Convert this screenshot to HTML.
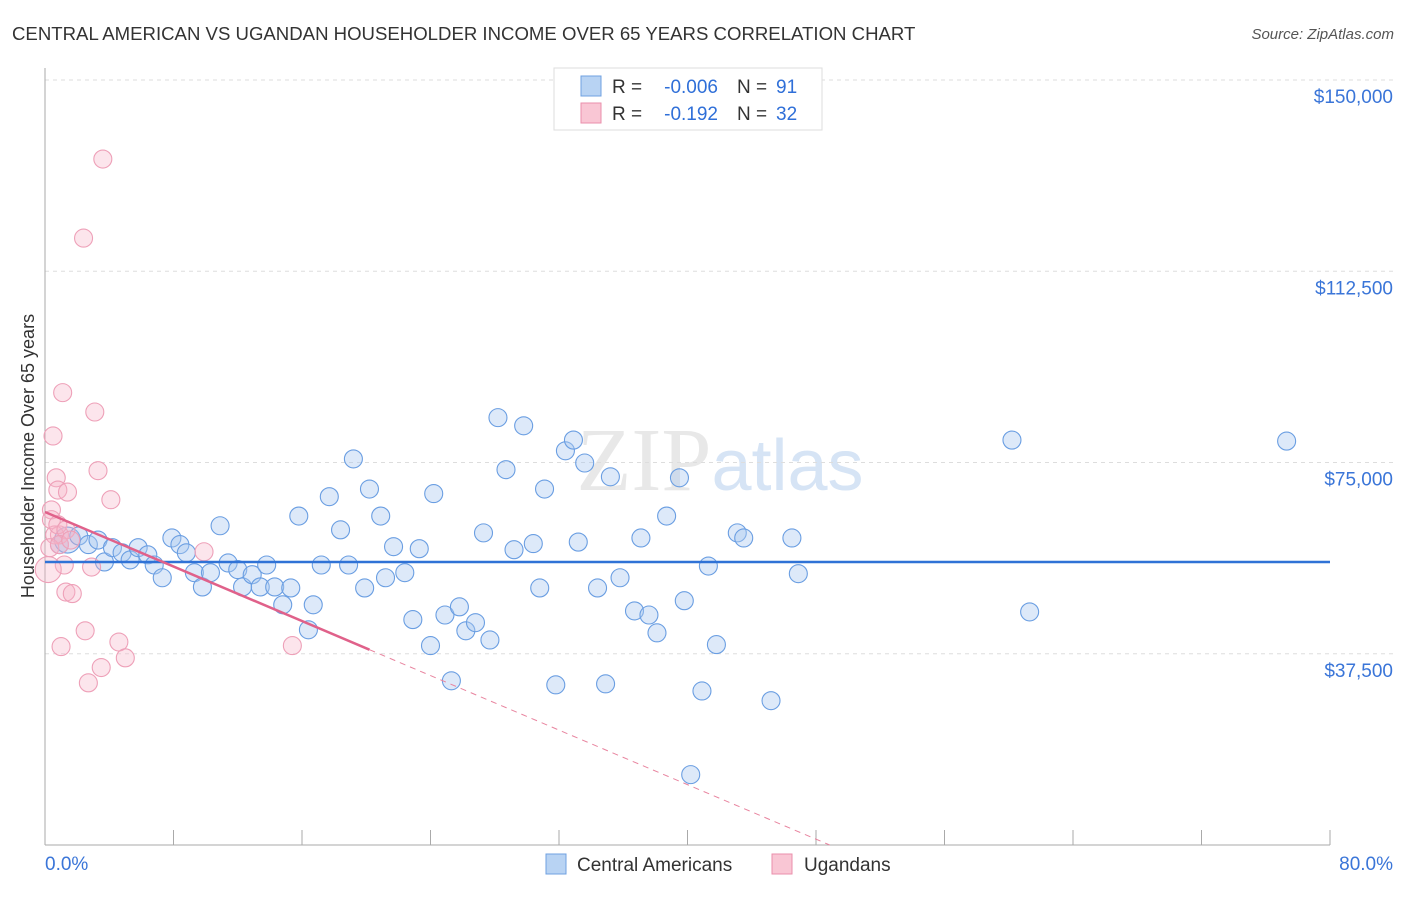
<!DOCTYPE html>
<html><head><meta charset="utf-8"><style>
body{margin:0;background:#fff;font-family:"Liberation Sans",sans-serif}
</style></head><body>
<svg id="chart" width="1406" height="892" xmlns="http://www.w3.org/2000/svg" font-family="Liberation Sans, sans-serif">
<text x="12" y="40" font-size="18.6" fill="#333">CENTRAL AMERICAN VS UGANDAN HOUSEHOLDER INCOME OVER 65 YEARS CORRELATION CHART</text>
<text x="1394" y="39" font-size="15" fill="#555" text-anchor="end" font-style="italic">Source: ZipAtlas.com</text>
<text x="720" y="490" font-size="90" fill="#e8e8e8" text-anchor="middle" font-family="Liberation Serif, serif">ZIP<tspan fill="#d6e4f5" font-family="Liberation Sans, sans-serif" font-size="72">atlas</tspan></text>
<g id="grid"></g>
<g id="axes"></g>
<g id="marks"></g>
<text transform="translate(34,456) rotate(-90)" font-size="18" fill="#333" text-anchor="middle">Householder Income Over 65 years</text>
<g>
<rect x="554" y="68" width="268" height="62" fill="#fff" stroke="#ddd"/>
<rect x="581" y="76" width="20" height="20" fill="#b8d3f3" stroke="#6fa0e0"/>
<rect x="581" y="103" width="20" height="20" fill="#f9c6d4" stroke="#ea8fab"/>
<text x="612" y="93" font-size="19" fill="#333">R =</text>
<text x="718" y="93" font-size="19" fill="#2f6fd8" text-anchor="end">-0.006</text>
<text x="737" y="93" font-size="19" fill="#333">N =</text>
<text x="776" y="93" font-size="19" fill="#2f6fd8">91</text>
<text x="612" y="120" font-size="19" fill="#333">R =</text>
<text x="718" y="120" font-size="19" fill="#2f6fd8" text-anchor="end">-0.192</text>
<text x="737" y="120" font-size="19" fill="#333">N =</text>
<text x="776" y="120" font-size="19" fill="#2f6fd8">32</text>
</g>
<g>
<rect x="546" y="854" width="20" height="20" fill="#b8d3f3" stroke="#6fa0e0"/>
<text x="577" y="871" font-size="19" fill="#333">Central Americans</text>
<rect x="772" y="854" width="20" height="20" fill="#f9c6d4" stroke="#ea8fab"/>
<text x="804" y="871" font-size="19" fill="#333">Ugandans</text>
</g>
</svg>
<script>
const yTicks=[37500,75000,112500,150000];
const yTickLabels=["$37,500","$75,000","$112,500","$150,000"];
const xTickLabels=["0.0%","80.0%"];
const blueX=[0.9,1.4,2.1,2.7,3.3,3.7,4.2,4.8,5.3,5.8,6.4,6.8,7.3,7.9,8.4,8.8,9.3,9.8,10.3,10.9,11.4,12.0,12.3,12.9,13.4,13.8,14.3,14.8,15.3,15.8,16.4,16.7,17.2,17.7,18.4,18.9,19.2,19.9,20.2,20.9,21.2,21.7,22.4,22.9,23.3,24.0,24.2,24.9,25.3,25.8,26.2,26.8,27.3,27.7,28.2,28.7,29.2,29.8,30.4,30.8,31.1,32.4,32.9,33.2,33.6,34.4,34.9,35.2,35.8,36.7,37.1,37.6,38.1,38.7,39.5,39.8,40.9,41.3,41.8,43.1,43.5,45.2,46.5,46.9,60.2,61.3,77.3,31.8,40.2];
const blueY=[58900,59800,60600,58900,59800,55500,58300,57300,55900,58300,56900,54900,52400,60200,58900,57300,53400,50600,53400,62600,55300,54000,50600,53000,50600,54900,50600,47100,50400,64500,42200,47100,54900,68300,61800,54900,75700,50400,69800,64500,52400,58500,53400,44200,58100,39100,68900,45100,32200,46700,42000,43600,61200,40200,83800,73600,57900,82200,59100,50400,69800,77300,79400,59400,74900,50400,31600,72200,52400,45900,60200,45100,41600,64500,72000,47900,30200,54700,39300,61200,60200,28300,60200,53200,79400,45700,79200,31400,13800];
const pinkX=[1.1,3.1,0.5,3.3,0.7,0.8,1.4,4.1,0.4,0.4,0.9,1.2,2.9,1.3,1.7,9.9,2.5,1.0,4.6,5.0,3.5,2.7,15.4,3.6,2.4,0.2,0.6,0.8,0.3,1.3,0.9,1.6];
const pinkY=[88700,84900,80200,73400,72000,69600,69200,67700,65700,63800,60800,54900,54500,49600,49300,57500,42000,38900,39800,36700,34800,31800,39100,134500,119000,54000,60800,62800,58300,61800,58900,59800];
const blueTrend=[55500,55500];
const pinkTrend=[65300,38300];
const pinkTrendX=[0,20.2];
const NS="http://www.w3.org/2000/svg";
const X=p=>45+p*(1285/80);
const Y=v=>845-v*(765/150000);
function mk(tag,attrs,parent){const e=document.createElementNS(NS,tag);for(const k in attrs)e.setAttribute(k,attrs[k]);parent.appendChild(e);return e;}
const grid=document.getElementById('grid'),axes=document.getElementById('axes'),marks=document.getElementById('marks');
yTicks.forEach((t,i)=>{
 const l=mk('line',{x1:45,x2:1394,y1:Y(t),y2:Y(t),stroke:'#ddd','stroke-dasharray':'4,4'},grid);
 
 
 const tx=mk('text',{x:1393,y:Y(t)+23,'font-size':19,fill:'#3a75d8','text-anchor':'end'},axes);
 tx.textContent=yTickLabels[i];
 
 
});
const ax=mk('line',{x1:45,x2:45,y1:68,y2:845,stroke:'#aaa'},axes);


const bx=mk('line',{x1:45,x2:1330,y1:845,y2:845,stroke:'#aaa'},axes);


for(let i=0;i<=10;i++){const t=mk('line',{x1:X(i*8),x2:X(i*8),y1:830,y2:845,stroke:'#aaa'},axes);
 
 }
[[0,'start',45],[80,'end',1393]].forEach((d,i)=>{const t=mk('text',{x:d[2],y:870,'font-size':19,fill:'#3a75d8','text-anchor':d[1]},axes);t.textContent=xTickLabels[i];
 
 });
blueX.forEach((x,i)=>{const c=mk('circle',{cx:X(x),cy:Y(blueY[i]),r:i==1?13:9,fill:'rgba(170,200,240,0.4)',stroke:'#6a9ee2','stroke-width':1.1},marks);
 
 });
pinkX.forEach((x,i)=>{const c=mk('circle',{cx:X(x),cy:Y(pinkY[i]),r:i==25?13:9,fill:'rgba(245,180,200,0.35)',stroke:'#eea0b8','stroke-width':1.1},marks);
 
 });
const bl=mk('line',{x1:X(0),x2:X(80),y1:Y(blueTrend[0]),y2:Y(blueTrend[1]),stroke:'#2f72d6','stroke-width':2.5},marks);


const slope=(pinkTrend[1]-pinkTrend[0])/(pinkTrendX[1]-pinkTrendX[0]);
const xEnd=-pinkTrend[0]/slope;
const pd=mk('line',{x1:X(pinkTrendX[1]),x2:X(xEnd),y1:Y(pinkTrend[1]),y2:Y(0),stroke:'#e8849f','stroke-width':1,'stroke-dasharray':'6,5'},marks);


const pl=mk('line',{x1:X(pinkTrendX[0]),x2:X(pinkTrendX[1]),y1:Y(pinkTrend[0]),y2:Y(pinkTrend[1]),stroke:'#e0618a','stroke-width':2.5},marks);


</script>
</body></html>
